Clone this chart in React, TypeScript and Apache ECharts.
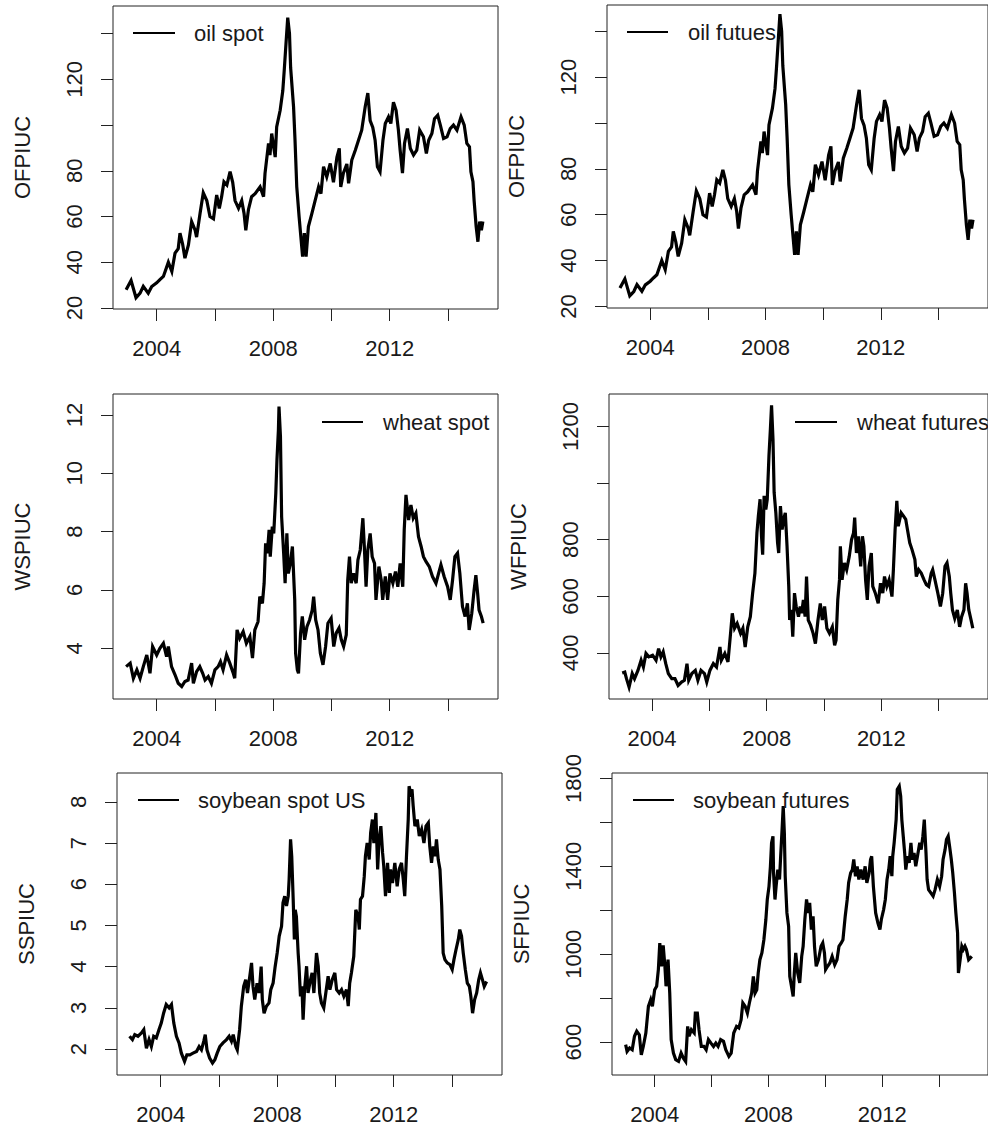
import React, { useEffect, useRef } from "react";
import * as echarts from "echarts";

const xTicks = [2004, 2006, 2008, 2010, 2012, 2014];
const xLabels = [2004, 2008, 2012];

const oilTicks = [20, 40, 60, 80, 100, 120, 140];
const oilLabels = [20, 40, 60, 80, 120];
const wheatSpotTicks = [4, 6, 8, 10, 12];
const wheatSpotLabels = [4, 6, 8, 10, 12];
const wheatFutTicks = [400, 600, 800, 1000, 1200];
const wheatFutLabels = [400, 600, 800, 1200];
const soySpotTicks = [2, 3, 4, 5, 6, 7, 8];
const soySpotLabels = [2, 3, 4, 5, 6, 7, 8];
const soyFutTicks = [600, 800, 1000, 1200, 1400, 1600, 1800];
const soyFutLabels = [600, 1000, 1400, 1800];

const oilSpot: [number, number][] = [
  [2002.95, 28], [2003.12, 32], [2003.29, 24.5], [2003.43, 26.5], [2003.54, 29.5], [2003.71, 26.5], [2003.83, 29.4],
  [2004.0, 31], [2004.11, 32.4], [2004.23, 33.8], [2004.29, 36], [2004.4, 40], [2004.52, 36], [2004.63, 44], [2004.74, 46],
  [2004.8, 52.7], [2004.89, 48], [2004.97, 41.8], [2005.09, 47.6], [2005.2, 57.8], [2005.32, 54], [2005.37, 51], [2005.49, 61.4],
  [2005.6, 70.4], [2005.72, 67], [2005.83, 60], [2005.95, 59], [2006.06, 69.4], [2006.15, 63.6], [2006.23, 68.7], [2006.31, 75.2],
  [2006.41, 73.8], [2006.52, 79.6], [2006.61, 75], [2006.69, 67], [2006.81, 63.6], [2006.92, 67], [2007.0, 61.4], [2007.06, 54],
  [2007.15, 63], [2007.26, 68.7], [2007.38, 70], [2007.55, 73], [2007.67, 68.7], [2007.72, 78.9], [2007.84, 92], [2007.89, 86.9],
  [2007.95, 96.3], [2008.07, 86], [2008.12, 99.2], [2008.24, 106.5], [2008.33, 115], [2008.38, 124], [2008.44, 135.6], [2008.5, 147],
  [2008.56, 140], [2008.6, 125], [2008.7, 108], [2008.75, 93.4], [2008.81, 73], [2008.89, 60], [2008.96, 49.8], [2009.01, 42.5],
  [2009.07, 52.7], [2009.13, 42.5], [2009.21, 55.6], [2009.33, 61.4], [2009.44, 67], [2009.56, 73], [2009.64, 70], [2009.73, 81.8],
  [2009.84, 77.4], [2009.96, 83.2], [2010.07, 75], [2010.19, 86], [2010.27, 89.8], [2010.32, 73], [2010.41, 79], [2010.53, 83],
  [2010.59, 74.5], [2010.7, 84.7], [2010.82, 89], [2010.93, 93.4], [2011.04, 97.8], [2011.16, 108], [2011.25, 114], [2011.33, 102],
  [2011.42, 99], [2011.5, 93.4], [2011.58, 81.8], [2011.67, 79.6], [2011.77, 93.4], [2011.85, 100.7], [2011.96, 103.6], [2012.04, 100.7],
  [2012.13, 110], [2012.22, 106.5], [2012.3, 97.8], [2012.36, 89], [2012.44, 79], [2012.51, 92], [2012.61, 98.5], [2012.71, 89.8],
  [2012.82, 86.9], [2012.93, 89], [2013.03, 97.8], [2013.16, 94.9], [2013.26, 87.6], [2013.34, 93.4], [2013.45, 96.3], [2013.54, 102.8],
  [2013.65, 104.3], [2013.74, 100], [2013.85, 94.2], [2013.97, 94.9], [2014.08, 98.5], [2014.19, 100], [2014.31, 97.8], [2014.45, 103.6],
  [2014.56, 100], [2014.65, 92], [2014.74, 90.5], [2014.79, 79.6], [2014.86, 75.2], [2014.9, 67], [2014.97, 55.6], [2015.03, 49],
  [2015.09, 57.8], [2015.15, 54], [2015.2, 57.8],
];

const oilFutures: [number, number][] = [
  [2002.95, 28], [2003.12, 32], [2003.29, 24.6], [2003.43, 26.5], [2003.54, 29.5], [2003.71, 26.6], [2003.83, 29.4],
  [2004.0, 31], [2004.11, 32.4], [2004.23, 33.8], [2004.29, 36], [2004.4, 40], [2004.52, 36], [2004.63, 44], [2004.74, 46],
  [2004.8, 52.7], [2004.89, 48], [2004.97, 41.8], [2005.09, 47.6], [2005.2, 57.8], [2005.32, 54], [2005.37, 51], [2005.49, 61.4],
  [2005.6, 70.4], [2005.72, 67], [2005.83, 60], [2005.95, 59], [2006.06, 69.4], [2006.15, 63.6], [2006.23, 68.7], [2006.31, 75.2],
  [2006.41, 73.8], [2006.52, 79.6], [2006.61, 75], [2006.69, 67], [2006.81, 63.6], [2006.92, 67], [2007.0, 61.4], [2007.06, 54],
  [2007.15, 63], [2007.26, 68.7], [2007.38, 70], [2007.55, 73], [2007.67, 68.7], [2007.72, 78.9], [2007.84, 92], [2007.89, 86.9],
  [2007.95, 96.3], [2008.07, 86], [2008.12, 99.2], [2008.24, 106.5], [2008.33, 115], [2008.38, 124], [2008.44, 135.6], [2008.5, 147.5],
  [2008.56, 140], [2008.6, 125], [2008.7, 108], [2008.75, 93.4], [2008.81, 73], [2008.89, 60], [2008.96, 49.8], [2009.01, 42.5],
  [2009.07, 52.7], [2009.13, 42.5], [2009.21, 55.6], [2009.33, 61.4], [2009.44, 67], [2009.56, 73], [2009.64, 70], [2009.73, 81.8],
  [2009.84, 77.4], [2009.96, 83.2], [2010.07, 75], [2010.19, 86], [2010.27, 89.8], [2010.32, 73], [2010.41, 79], [2010.53, 83],
  [2010.59, 74.5], [2010.7, 84.7], [2010.82, 89], [2010.93, 93.4], [2011.04, 97.8], [2011.16, 108], [2011.25, 114.5], [2011.33, 102],
  [2011.42, 99], [2011.5, 93.4], [2011.58, 81.8], [2011.67, 79.6], [2011.77, 93.4], [2011.85, 100.7], [2011.96, 103.6], [2012.04, 100.7],
  [2012.13, 110], [2012.22, 106.5], [2012.3, 97.8], [2012.36, 89], [2012.44, 79], [2012.51, 92], [2012.61, 98.5], [2012.71, 89.8],
  [2012.82, 86.9], [2012.93, 89], [2013.03, 97.8], [2013.16, 94.9], [2013.26, 87.6], [2013.34, 93.4], [2013.45, 96.3], [2013.54, 102.8],
  [2013.65, 104.3], [2013.74, 100], [2013.85, 94.2], [2013.97, 94.9], [2014.08, 98.5], [2014.19, 100], [2014.31, 97.8], [2014.45, 103.6],
  [2014.56, 100], [2014.65, 92], [2014.74, 90.5], [2014.79, 79.6], [2014.86, 75.2], [2014.9, 67], [2014.97, 55.6], [2015.03, 49],
  [2015.09, 57.8], [2015.15, 54], [2015.2, 57.8],
];

const wheatSpot: [number, number][] = [
  [2002.95, 3.37], [2003.09, 3.49], [2003.2, 2.97], [2003.32, 3.26], [2003.43, 2.97], [2003.54, 3.37], [2003.66, 3.77], [2003.77, 3.14],
  [2003.86, 4.06], [2004.0, 3.77], [2004.11, 4.0], [2004.23, 4.17], [2004.34, 3.71], [2004.4, 4.06], [2004.51, 3.37], [2004.63, 3.09],
  [2004.74, 2.8], [2004.86, 2.69], [2004.97, 2.86], [2005.08, 2.91], [2005.2, 3.49], [2005.26, 2.8], [2005.37, 3.2], [2005.48, 3.37],
  [2005.58, 3.14], [2005.66, 2.91], [2005.77, 3.03], [2005.88, 2.8], [2006.0, 3.26], [2006.11, 3.37], [2006.19, 3.54], [2006.28, 3.26],
  [2006.4, 3.77], [2006.51, 3.49], [2006.63, 3.14], [2006.68, 2.97], [2006.76, 4.63], [2006.85, 4.34], [2006.97, 4.57], [2007.08, 4.17],
  [2007.2, 4.4], [2007.29, 3.66], [2007.37, 4.63], [2007.48, 4.91], [2007.54, 5.77], [2007.63, 5.54], [2007.69, 6.23], [2007.74, 7.6],
  [2007.8, 7.26], [2007.86, 8.06], [2007.9, 7.14], [2007.97, 8.17], [2008.02, 7.94], [2008.09, 9.31], [2008.13, 10.46], [2008.18, 11.49],
  [2008.2, 12.29], [2008.25, 11.26], [2008.29, 8.51], [2008.36, 7.26], [2008.41, 6.23], [2008.47, 7.94], [2008.52, 6.57], [2008.59, 6.91],
  [2008.66, 7.49], [2008.74, 5.66], [2008.77, 3.83], [2008.83, 3.26], [2008.87, 3.14], [2008.94, 4.51], [2009.0, 5.09], [2009.08, 4.29],
  [2009.16, 4.74], [2009.25, 4.97], [2009.34, 5.31], [2009.39, 5.77], [2009.46, 4.97], [2009.54, 4.63], [2009.62, 3.83], [2009.71, 3.43],
  [2009.8, 4.06], [2009.88, 4.86], [2009.99, 5.03], [2010.08, 4.06], [2010.16, 4.51], [2010.26, 4.69], [2010.34, 4.29], [2010.42, 4.06],
  [2010.51, 4.46], [2010.56, 6.34], [2010.62, 7.14], [2010.68, 6.23], [2010.76, 6.57], [2010.85, 6.23], [2010.91, 7.03], [2010.99, 7.37],
  [2011.08, 8.46], [2011.13, 7.49], [2011.19, 6.11], [2011.25, 7.37], [2011.33, 7.94], [2011.4, 7.14], [2011.48, 6.91], [2011.53, 5.66],
  [2011.63, 6.8], [2011.71, 6.34], [2011.76, 5.66], [2011.85, 6.46], [2011.93, 5.66], [2012.01, 6.57], [2012.11, 6.23], [2012.2, 6.63],
  [2012.28, 6.11], [2012.36, 6.91], [2012.45, 6.11], [2012.5, 8.06], [2012.56, 9.26], [2012.65, 8.4], [2012.73, 8.91], [2012.81, 8.46],
  [2012.9, 8.63], [2012.99, 7.83], [2013.08, 7.49], [2013.16, 7.14], [2013.25, 6.97], [2013.36, 6.8], [2013.47, 6.46], [2013.59, 6.23],
  [2013.68, 6.57], [2013.76, 6.86], [2013.87, 6.46], [2013.99, 6.11], [2014.08, 5.66], [2014.16, 6.34], [2014.24, 7.14], [2014.33, 7.26],
  [2014.41, 6.57], [2014.5, 5.43], [2014.59, 5.09], [2014.67, 5.54], [2014.73, 4.63], [2014.82, 5.2], [2014.9, 6.0], [2014.96, 6.51],
  [2015.02, 5.89], [2015.07, 5.31], [2015.15, 5.09], [2015.21, 4.86],
];

const wheatFutures: [number, number][] = [
  [2002.96, 329], [2003.05, 332], [2003.11, 309], [2003.2, 279], [2003.31, 327], [2003.39, 309], [2003.51, 338], [2003.62, 374],
  [2003.7, 350], [2003.79, 398], [2003.89, 386], [2004.02, 392], [2004.14, 374], [2004.23, 415], [2004.31, 386], [2004.39, 404],
  [2004.48, 362], [2004.57, 327], [2004.69, 309], [2004.8, 309], [2004.91, 285], [2005.03, 297], [2005.13, 303], [2005.22, 362],
  [2005.28, 303], [2005.39, 327], [2005.51, 338], [2005.6, 303], [2005.71, 338], [2005.83, 327], [2005.91, 297], [2006.02, 338],
  [2006.14, 362], [2006.25, 350], [2006.37, 421], [2006.42, 374], [2006.54, 398], [2006.65, 368], [2006.74, 469], [2006.8, 540],
  [2006.88, 487], [2006.97, 504], [2007.09, 469], [2007.17, 487], [2007.25, 421], [2007.34, 492], [2007.43, 528], [2007.51, 611],
  [2007.59, 682], [2007.66, 824], [2007.71, 884], [2007.77, 943], [2007.82, 812], [2007.86, 747], [2007.91, 955], [2007.97, 907],
  [2008.02, 943], [2008.08, 1097], [2008.13, 1192], [2008.17, 1275], [2008.22, 1156], [2008.26, 967], [2008.32, 895], [2008.38, 789],
  [2008.42, 753], [2008.48, 919], [2008.54, 836], [2008.59, 872], [2008.65, 895], [2008.71, 777], [2008.77, 635], [2008.8, 516],
  [2008.86, 552], [2008.91, 457], [2008.97, 611], [2009.03, 564], [2009.11, 528], [2009.17, 564], [2009.22, 540], [2009.28, 587],
  [2009.34, 528], [2009.39, 670], [2009.45, 516], [2009.53, 498], [2009.62, 469], [2009.7, 433], [2009.79, 516], [2009.87, 575],
  [2009.94, 516], [2010.02, 564], [2010.1, 487], [2010.19, 469], [2010.29, 492], [2010.37, 427], [2010.42, 445], [2010.48, 587],
  [2010.54, 658], [2010.57, 777], [2010.63, 658], [2010.71, 718], [2010.79, 694], [2010.88, 741], [2010.96, 800], [2011.03, 824],
  [2011.07, 878], [2011.13, 753], [2011.2, 812], [2011.28, 706], [2011.34, 812], [2011.39, 777], [2011.45, 658], [2011.51, 587],
  [2011.57, 706], [2011.65, 753], [2011.7, 635], [2011.79, 611], [2011.89, 575], [2011.97, 646], [2012.05, 611], [2012.11, 670],
  [2012.19, 635], [2012.27, 658], [2012.37, 599], [2012.42, 694], [2012.48, 836], [2012.54, 937], [2012.59, 848], [2012.69, 895],
  [2012.77, 884], [2012.85, 872], [2012.91, 836], [2012.99, 789], [2013.07, 765], [2013.17, 730], [2013.22, 670], [2013.3, 694],
  [2013.39, 682], [2013.49, 658], [2013.57, 641], [2013.65, 635], [2013.74, 682], [2013.79, 694], [2013.87, 658], [2013.97, 611],
  [2014.06, 564], [2014.14, 611], [2014.22, 706], [2014.29, 718], [2014.37, 670], [2014.42, 611], [2014.48, 552], [2014.56, 522],
  [2014.65, 552], [2014.73, 492], [2014.8, 528], [2014.88, 552], [2014.94, 646], [2014.99, 611], [2015.05, 552], [2015.13, 516],
  [2015.19, 487],
];

const soySpot: [number, number][] = [
  [2002.93, 2.31], [2003.03, 2.23], [2003.11, 2.35], [2003.22, 2.31], [2003.34, 2.39], [2003.42, 2.47], [2003.51, 2.02], [2003.6, 2.23],
  [2003.68, 2.06], [2003.76, 2.31], [2003.85, 2.27], [2003.94, 2.47], [2004.02, 2.63], [2004.1, 2.87], [2004.19, 3.08], [2004.29, 3.0],
  [2004.37, 3.08], [2004.45, 2.63], [2004.54, 2.31], [2004.63, 2.15], [2004.71, 1.9], [2004.82, 1.7], [2004.9, 1.86], [2005.0, 1.86],
  [2005.11, 1.9], [2005.23, 1.94], [2005.32, 2.06], [2005.4, 1.98], [2005.48, 2.19], [2005.53, 2.35], [2005.59, 1.98], [2005.68, 1.78],
  [2005.78, 1.66], [2005.86, 1.74], [2005.94, 1.9], [2006.03, 2.06], [2006.14, 2.15], [2006.26, 2.23], [2006.35, 2.31], [2006.43, 2.19],
  [2006.49, 2.35], [2006.58, 2.06], [2006.63, 1.98], [2006.71, 2.47], [2006.77, 3.04], [2006.85, 3.52], [2006.92, 3.68], [2006.98, 3.36],
  [2007.06, 3.77], [2007.12, 4.09], [2007.17, 3.52], [2007.23, 3.2], [2007.31, 3.6], [2007.38, 3.36], [2007.45, 4.0], [2007.49, 3.2],
  [2007.55, 2.87], [2007.63, 3.04], [2007.72, 3.12], [2007.78, 3.44], [2007.86, 3.6], [2007.93, 4.0], [2008.0, 4.33], [2008.07, 4.74],
  [2008.15, 4.98], [2008.2, 5.55], [2008.26, 5.71], [2008.32, 5.47], [2008.38, 5.71], [2008.41, 6.11], [2008.46, 7.09], [2008.5, 6.68],
  [2008.55, 5.63], [2008.59, 4.66], [2008.62, 5.38], [2008.66, 5.22], [2008.72, 4.33], [2008.75, 4.01], [2008.8, 3.28], [2008.85, 3.52],
  [2008.89, 2.71], [2008.94, 3.44], [2009.01, 4.01], [2009.06, 3.36], [2009.12, 3.6], [2009.2, 3.85], [2009.26, 3.36], [2009.35, 4.33],
  [2009.41, 4.01], [2009.46, 3.36], [2009.52, 3.12], [2009.6, 3.0], [2009.67, 3.36], [2009.75, 3.77], [2009.81, 3.44], [2009.89, 3.68],
  [2009.98, 3.85], [2010.04, 3.44], [2010.13, 3.36], [2010.21, 3.44], [2010.29, 3.28], [2010.38, 3.44], [2010.44, 3.04], [2010.49, 3.6],
  [2010.55, 3.85], [2010.63, 4.25], [2010.7, 5.38], [2010.78, 5.22], [2010.82, 4.9], [2010.86, 5.63], [2010.93, 5.71], [2010.99, 6.19],
  [2011.03, 6.68], [2011.09, 7.0], [2011.16, 6.6], [2011.21, 7.25], [2011.27, 7.57], [2011.32, 7.0], [2011.39, 7.73], [2011.45, 6.36],
  [2011.5, 7.09], [2011.56, 7.41], [2011.62, 6.76], [2011.66, 6.44], [2011.72, 5.71], [2011.79, 6.52], [2011.85, 5.79], [2011.89, 6.36],
  [2011.96, 6.03], [2012.04, 6.52], [2012.12, 5.95], [2012.19, 6.36], [2012.27, 6.52], [2012.33, 6.11], [2012.38, 5.71], [2012.44, 6.68],
  [2012.5, 7.57], [2012.53, 8.38], [2012.58, 8.22], [2012.63, 8.3], [2012.67, 7.9], [2012.73, 7.41], [2012.81, 7.57], [2012.88, 7.17],
  [2012.96, 7.33], [2013.04, 7.0], [2013.11, 7.41], [2013.19, 7.49], [2013.24, 6.92], [2013.3, 6.52], [2013.36, 6.92], [2013.42, 6.68],
  [2013.47, 7.09], [2013.53, 6.6], [2013.59, 6.36], [2013.65, 5.47], [2013.7, 4.33], [2013.76, 4.17], [2013.84, 4.09], [2013.93, 4.05],
  [2014.01, 3.93], [2014.07, 4.17], [2014.14, 4.41], [2014.22, 4.66], [2014.27, 4.9], [2014.33, 4.74], [2014.39, 4.33], [2014.46, 3.93],
  [2014.53, 3.6], [2014.6, 3.52], [2014.65, 3.28], [2014.71, 2.87], [2014.78, 3.2], [2014.85, 3.36], [2014.92, 3.68], [2014.98, 3.85],
  [2015.05, 3.68], [2015.11, 3.52], [2015.19, 3.64],
];

const soyFutures: [number, number][] = [
  [2002.98, 588], [2003.03, 557], [2003.12, 573], [2003.21, 565], [2003.29, 626], [2003.37, 649], [2003.46, 633], [2003.53, 542],
  [2003.6, 580], [2003.69, 641], [2003.78, 763], [2003.86, 793], [2003.92, 763], [2004.0, 838], [2004.07, 854], [2004.13, 930],
  [2004.18, 1051], [2004.24, 945], [2004.3, 1040], [2004.36, 945], [2004.4, 854], [2004.47, 975], [2004.53, 823], [2004.58, 611],
  [2004.66, 550], [2004.74, 520], [2004.84, 512], [2004.93, 550], [2005.01, 527], [2005.09, 512], [2005.16, 671], [2005.21, 626],
  [2005.29, 656], [2005.39, 641], [2005.43, 732], [2005.5, 732], [2005.56, 656], [2005.64, 580], [2005.73, 580], [2005.81, 565],
  [2005.89, 611], [2005.98, 595], [2006.07, 580], [2006.15, 595], [2006.23, 580], [2006.32, 611], [2006.42, 603], [2006.5, 565],
  [2006.61, 535], [2006.69, 550], [2006.78, 641], [2006.88, 671], [2006.96, 664], [2007.04, 702], [2007.1, 778], [2007.18, 763],
  [2007.26, 732], [2007.33, 778], [2007.41, 823], [2007.47, 899], [2007.53, 823], [2007.59, 838], [2007.64, 914], [2007.7, 975],
  [2007.77, 1006], [2007.84, 1066], [2007.91, 1158], [2007.96, 1249], [2008.02, 1309], [2008.07, 1400], [2008.11, 1507], [2008.16, 1537],
  [2008.18, 1370], [2008.23, 1249], [2008.27, 1309], [2008.33, 1385], [2008.39, 1340], [2008.43, 1446], [2008.48, 1568], [2008.52, 1674],
  [2008.56, 1552], [2008.59, 1355], [2008.65, 1188], [2008.71, 1127], [2008.75, 899], [2008.81, 854], [2008.87, 808], [2008.91, 914],
  [2008.96, 1006], [2009.03, 914], [2009.1, 869], [2009.17, 990], [2009.22, 1036], [2009.28, 1158], [2009.34, 1249], [2009.4, 1188],
  [2009.45, 1234], [2009.51, 1112], [2009.57, 1173], [2009.62, 1036], [2009.68, 945], [2009.76, 975], [2009.85, 1036], [2009.91, 1051],
  [2009.97, 1006], [2010.01, 930], [2010.08, 945], [2010.16, 960], [2010.24, 990], [2010.33, 952], [2010.41, 975], [2010.48, 1036],
  [2010.56, 1051], [2010.62, 1066], [2010.7, 1173], [2010.77, 1249], [2010.82, 1325], [2010.89, 1370], [2010.95, 1385], [2011.0, 1431],
  [2011.06, 1355], [2011.12, 1400], [2011.18, 1340], [2011.25, 1385], [2011.33, 1340], [2011.4, 1400], [2011.46, 1325], [2011.54, 1370],
  [2011.59, 1431], [2011.63, 1446], [2011.69, 1309], [2011.77, 1188], [2011.85, 1142], [2011.92, 1112], [2011.97, 1158], [2012.05, 1203],
  [2012.11, 1249], [2012.17, 1340], [2012.23, 1385], [2012.28, 1446], [2012.34, 1355], [2012.37, 1446], [2012.42, 1507], [2012.49, 1613],
  [2012.53, 1750], [2012.6, 1765], [2012.65, 1720], [2012.69, 1613], [2012.74, 1537], [2012.79, 1461], [2012.83, 1385], [2012.89, 1446],
  [2012.95, 1416], [2013.01, 1507], [2013.06, 1431], [2013.12, 1461], [2013.18, 1400], [2013.24, 1446], [2013.32, 1507], [2013.37, 1476],
  [2013.43, 1537], [2013.48, 1613], [2013.54, 1461], [2013.58, 1340], [2013.63, 1294], [2013.71, 1279], [2013.79, 1264], [2013.86, 1294],
  [2013.94, 1340], [2014.02, 1309], [2014.09, 1355], [2014.14, 1431], [2014.21, 1476], [2014.26, 1522], [2014.32, 1537], [2014.37, 1491],
  [2014.43, 1431], [2014.48, 1370], [2014.54, 1279], [2014.59, 1188], [2014.65, 1097], [2014.68, 914], [2014.74, 975], [2014.8, 1036],
  [2014.85, 1021], [2014.91, 1036], [2014.96, 1021], [2015.04, 975], [2015.1, 983], [2015.15, 990],
];

const panelNames = ["oil spot", "oil futues", "wheat spot", "wheat futures", "soybean spot US", "soybean futures"];
const axisNames = ["OFPIUC", "OFPIUC", "WSPIUC", "WFPIUC", "SSPIUC", "SFPIUC"];

const FONT = "'Liberation Sans', Arial, Helvetica, sans-serif";
const TXT = "#1a1a1a";

// layout (positions only)
const layout = [
  { left: 113, top: 6, width: 385, height: 303, yMin: 19.56, yMax: 152.1, legend: { x1: 133, x2: 175, y: 33, tx: 194 } },
  { left: 607, top: 5, width: 385, height: 303, yMin: 19.3, yMax: 151.5, legend: { x1: 627, x2: 668, y: 32, tx: 688 } },
  { left: 113, top: 394, width: 385, height: 305, yMin: 2.26, yMax: 12.72, legend: { x1: 322, x2: 363, y: 422, tx: 383 } },
  { left: 609, top: 394, width: 385, height: 305, yMin: 237, yMax: 1315, legend: { x1: 795, x2: 837, y: 422, tx: 857 } },
  { left: 117, top: 773, width: 385, height: 302, yMin: 1.37, yMax: 8.7, legend: { x1: 138, x2: 179, y: 800, tx: 198 } },
  { left: 612, top: 773, width: 385, height: 302, yMin: 450, yMax: 1825, legend: { x1: 633, x2: 674, y: 800, tx: 693 } },
];

const seriesData = [oilSpot, oilFutures, wheatSpot, wheatFutures, soySpot, soyFutures];
const yTickSets = [oilTicks, oilTicks, wheatSpotTicks, wheatFutTicks, soySpotTicks, soyFutTicks];
const yLabelSets = [oilLabels, oilLabels, wheatSpotLabels, wheatFutLabels, soySpotLabels, soyFutLabels];

export default function App() {
  const ref = useRef<HTMLDivElement>(null);

  useEffect(() => {
    if (!ref.current) return;
    const chart = echarts.init(ref.current, null, { renderer: "svg" });

    const grid = layout.map((l) => ({
      left: l.left,
      top: l.top,
      width: l.width,
      height: l.height,
      show: true,
      borderColor: "#222",
      borderWidth: 1,
      backgroundColor: "#fff",
      containLabel: false,
    }));

    const xAxis = layout.map((l, i) => ({
      type: "value",
      gridIndex: i,
      min: 2002.5,
      max: 2015.72,
      axisLine: { show: false },
      splitLine: { show: false },
      axisTick: { show: true, length: 12, customValues: xTicks, lineStyle: { color: "#222", width: 1 } },
      axisLabel: {
        show: true,
        customValues: xLabels,
        margin: 28,
        fontSize: 22,
        fontFamily: FONT,
        color: TXT,
        formatter: (v: number) => String(Math.round(v)),
      },
    }));

    const yAxis = layout.map((l, i) => ({
      type: "value",
      gridIndex: i,
      min: l.yMin,
      max: l.yMax,
      name: axisNames[i],
      nameLocation: "middle",
      nameRotate: 90,
      nameGap: 80,
      nameTextStyle: { fontSize: 22, fontFamily: FONT, color: TXT },
      axisLine: { show: false },
      splitLine: { show: false },
      axisTick: { show: true, length: 12, customValues: yTickSets[i], lineStyle: { color: "#222", width: 1 } },
      axisLabel: {
        show: true,
        customValues: yLabelSets[i],
        rotate: 90,
        margin: 28,
        fontSize: 22,
        fontFamily: FONT,
        color: TXT,
        formatter: (v: number) => String(Math.round(v)),
      },
    }));

    const series = seriesData.map((d, i) => ({
      name: panelNames[i],
      type: "line",
      xAxisIndex: i,
      yAxisIndex: i,
      data: d,
      symbol: "none",
      showSymbol: false,
      clip: true,
      lineStyle: { color: "#000", width: 3.2, join: "miter", miterLimit: 4 },
    }));

    const graphic: any[] = [];
    layout.forEach((l, i) => {
      graphic.push({
        type: "line",
        shape: { x1: l.legend.x1, y1: l.legend.y, x2: l.legend.x2, y2: l.legend.y },
        style: { stroke: "#000", lineWidth: 2 },
        z: 10,
      });
      graphic.push({
        type: "text",
        x: l.legend.tx,
        y: l.legend.y,
        style: {
          text: panelNames[i],
          fontSize: 22,
          fontFamily: FONT,
          fill: TXT,
          verticalAlign: "middle",
          align: "left",
        },
        z: 10,
      });
    });

    chart.setOption({
      animation: false,
      backgroundColor: "#fff",
      grid,
      xAxis,
      yAxis,
      series,
      graphic,
    } as any);

    return () => chart.dispose();
  }, []);

  return (
    <div style={{ position: "absolute", left: 0, top: 0, width: 988, height: 1131, overflow: "hidden", background: "#fff" }}>
      <div ref={ref} style={{ width: 988, height: 1131 }} />
    </div>
  );
}
